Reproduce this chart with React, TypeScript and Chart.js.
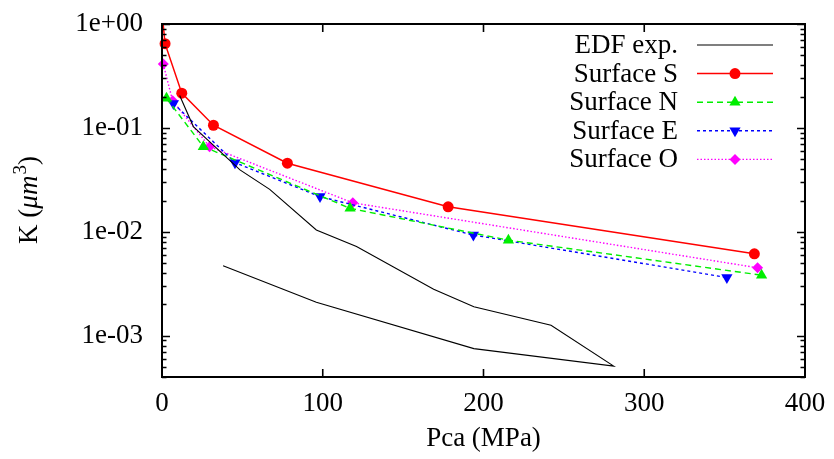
import React, { useEffect, useRef } from 'react';
import { Chart, registerables } from 'chart.js';

Chart.register(...registerables);

// ---- data ----
const edfX = [11, 19.5, 48.5, 67, 96, 121, 169, 194, 242, 281, 194, 96, 38];
const edfY = [0.205, 0.103, 0.0394, 0.0256, 0.0104, 0.0072, 0.0028, 0.0019, 0.00126, 0.00051, 0.00075, 0.0021, 0.0047];

const sX = [0, 1.9, 12.3, 32, 78, 178, 368.5];
const sY = [1.3, 0.646, 0.216, 0.106, 0.0457, 0.0174, 0.00614];

const nX = [2.8, 25.7, 117, 215.5, 373];
const nY = [0.1925, 0.066, 0.0168, 0.0083, 0.00382];

const eX = [7.1, 45.4, 98.3, 193.7, 351.4];
const eY = [0.172, 0.0463, 0.0218, 0.0093, 0.00363];

const oX = [0.8, 6.6, 29.6, 118.7, 370.5];
const oY = [0.411, 0.182, 0.066, 0.019, 0.0045];

const seriesNames = ['EDF exp.', 'Surface S', 'Surface N', 'Surface E', 'Surface O'];

const xTicks = [0, 100, 200, 300, 400];
const yTickValues = [1e-3, 1e-2, 1e-1, 1];
const yTickLabels = ['1e-03', '1e-02', '1e-01', '1e+00'];
const xTitle = 'Pca (MPa)';

const FONT = "'Liberation Serif', 'Times New Roman', Times, serif";
const FS = 27;

function pts(xs: number[], ys: number[]) {
  return xs.map((x, i) => ({ x, y: ys[i] }));
}

function drawMarker(ctx: CanvasRenderingContext2D, style: string, rot: number, x: number, y: number, r: number, color: string) {
  if (!style || r <= 0) return;
  ctx.save();
  ctx.fillStyle = color;
  ctx.beginPath();
  if (style === 'circle') {
    ctx.arc(x, y, r, 0, Math.PI * 2);
  } else if (style === 'triangle') {
    const s = rot ? -1 : 1;
    ctx.moveTo(x, y - s * r);
    ctx.lineTo(x + r * 0.866, y + s * r * 0.5);
    ctx.lineTo(x - r * 0.866, y + s * r * 0.5);
  } else if (style === 'rectRot') {
    ctx.moveTo(x, y - r);
    ctx.lineTo(x + r, y);
    ctx.lineTo(x, y + r);
    ctx.lineTo(x - r, y);
  }
  ctx.closePath();
  ctx.fill();
  ctx.restore();
}

const framePlugin = {
  id: 'gnuFrame',
  afterDraw(chart: any) {
    const { ctx, chartArea: a, scales } = chart;
    const xs = scales.x;
    const ys = scales.y;
    ctx.save();
    // frame
    ctx.strokeStyle = '#000';
    ctx.lineWidth = 2;
    ctx.strokeRect(a.left, a.top, a.right - a.left, a.bottom - a.top);
    // ticks
    ctx.lineWidth = 1.6;
    ctx.beginPath();
    for (const v of xTicks) {
      const px = xs.getPixelForValue(v);
      ctx.moveTo(px, a.bottom);
      ctx.lineTo(px, a.bottom - 8);
      ctx.moveTo(px, a.top);
      ctx.lineTo(px, a.top + 8);
    }
    for (let e = -4; e <= 0; e++) {
      for (let k = 1; k <= 9; k++) {
        const v = k * Math.pow(10, e);
        if (v < ys.min * 0.999 || v > ys.max * 1.001) continue;
        const py = Math.round(ys.getPixelForValue(v)) + 0.5;
        const len = k === 1 ? 8 : 4.5;
        ctx.moveTo(a.left, py);
        ctx.lineTo(a.left + len, py);
        ctx.moveTo(a.right, py);
        ctx.lineTo(a.right - len, py);
      }
    }
    ctx.stroke();

    // legend
    const rowY0 = 45;
    const rowStep = 28.6;
    ctx.font = `${FS}px ${FONT}`;
    ctx.fillStyle = '#000';
    ctx.textAlign = 'right';
    ctx.textBaseline = 'middle';
    chart.data.datasets.forEach((ds: any, i: number) => {
      const y = rowY0 + i * rowStep;
      ctx.fillStyle = '#000';
      ctx.fillText(seriesNames[i], 678, y + 1);
      ctx.save();
      ctx.strokeStyle = ds.borderColor;
      ctx.lineWidth = ds.borderWidth;
      ctx.setLineDash(ds.borderDash || []);
      ctx.beginPath();
      ctx.moveTo(697, y);
      ctx.lineTo(773, y);
      ctx.stroke();
      ctx.restore();
      drawMarker(ctx, ds.legendMarker, ds.rotation || 0, 735, y, ds.legendRadius || 0, ds.backgroundColor);
    });

    // x title
    ctx.textAlign = 'center';
    ctx.textBaseline = 'alphabetic';
    ctx.fillStyle = '#000';
    ctx.fillText(xTitle, (a.left + a.right) / 2, 446);

    // y title: K (μm^3)
    ctx.save();
    ctx.translate(37, (a.top + a.bottom) / 2);
    ctx.rotate(-Math.PI / 2);
    ctx.textAlign = 'left';
    ctx.textBaseline = 'alphabetic';
    const normal = `${FS}px ${FONT}`;
    const italic = `italic ${FS}px ${FONT}`;
    const sup = `${Math.round(FS * 0.72)}px ${FONT}`;
    const parts = [
      { t: 'K (', f: normal, dy: 0 },
      { t: 'μm', f: italic, dy: 0 },
      { t: '3', f: sup, dy: -11 },
      { t: ')', f: normal, dy: 0 },
    ];
    let total = 0;
    const widths = parts.map((p) => {
      ctx.font = p.f;
      const w = ctx.measureText(p.t).width;
      total += w;
      return w;
    });
    let cx = -total / 2;
    parts.forEach((p, i) => {
      ctx.font = p.f;
      ctx.fillText(p.t, cx, p.dy);
      cx += widths[i] + (i === 1 ? 1 : 0);
    });
    ctx.restore();

    ctx.restore();
  },
};

export default function App() {
  const ref = useRef<HTMLCanvasElement>(null);

  useEffect(() => {
    if (!ref.current) return;
    const chart = new Chart(ref.current, {
      type: 'scatter',
      data: {
        datasets: [
          {
            label: seriesNames[0],
            data: pts(edfX, edfY),
            showLine: true,
            borderColor: '#000000',
            backgroundColor: '#000000',
            borderWidth: 1.1,
            pointRadius: 0,
            legendMarker: '',
            legendRadius: 0,
          } as any,
          {
            label: seriesNames[1],
            data: pts(sX, sY),
            showLine: true,
            borderColor: '#ff0000',
            backgroundColor: '#ff0000',
            borderWidth: 1.5,
            pointStyle: 'circle',
            pointRadius: (c: any) => (c.raw && c.raw.y > 1 ? 0 : 5.5),
            pointBorderWidth: 0,
            legendMarker: 'circle',
            legendRadius: 5.5,
          } as any,
          {
            label: seriesNames[2],
            data: pts(nX, nY),
            showLine: true,
            borderColor: '#00ee00',
            backgroundColor: '#00ee00',
            borderWidth: 1.4,
            borderDash: [6, 4],
            pointStyle: 'triangle',
            pointRadius: 6.5,
            pointBorderWidth: 0,
            legendMarker: 'triangle',
            legendRadius: 6.5,
          } as any,
          {
            label: seriesNames[3],
            data: pts(eX, eY),
            showLine: true,
            borderColor: '#0000ff',
            backgroundColor: '#0000ff',
            borderWidth: 1.4,
            borderDash: [3, 3],
            pointStyle: 'triangle',
            rotation: 180,
            pointRadius: 6.5,
            pointBorderWidth: 0,
            legendMarker: 'triangle',
            legendRadius: 6.5,
          } as any,
          {
            label: seriesNames[4],
            data: pts(oX, oY),
            showLine: true,
            borderColor: '#ff00ff',
            backgroundColor: '#ff00ff',
            borderWidth: 1.4,
            borderDash: [1.5, 2],
            pointStyle: 'rectRot',
            pointRadius: 5.5,
            pointBorderWidth: 0,
            legendMarker: 'rectRot',
            legendRadius: 5.5,
          } as any,
        ],
      },
      options: {
        responsive: false,
        animation: false,
        devicePixelRatio: 1,
        layout: { padding: { top: 24, right: 29, left: 0, bottom: 0 } },
        plugins: {
          legend: { display: false },
          tooltip: { enabled: false },
        },
        elements: { line: { tension: 0 } },
        datasets: {
          scatter: { clip: { left: 10, right: 10, top: 0, bottom: 10 } as any },
        },
        scales: {
          x: {
            type: 'linear',
            position: 'bottom',
            min: 0,
            max: 400,
            grid: { display: false, drawTicks: true, tickLength: 11 },
            border: { display: false },
            ticks: {
              stepSize: 100,
              padding: 0,
              color: '#000',
              font: { family: FONT, size: FS },
              maxRotation: 0,
            },
            afterFit: (s: any) => {
              s.height = 82;
            },
          },
          y: {
            type: 'logarithmic',
            position: 'left',
            min: 4e-4,
            max: 1,
            grid: { display: false, drawTicks: true, tickLength: 19 },
            border: { display: false },
            ticks: {
              padding: 0,
              color: '#000',
              font: { family: FONT, size: FS },
              callback: (_v: any, i: number) => yTickLabels[i],
            },
            afterBuildTicks: (s: any) => {
              s.ticks = yTickValues.map((v) => ({ value: v }));
            },
            afterFit: (s: any) => {
              s.width = 162;
            },
          },
        },
      } as any,
      plugins: [framePlugin],
    });
    return () => chart.destroy();
  }, []);

  return (
    <div style={{ position: 'absolute', left: 0, top: 0, width: 834, height: 459, background: '#fff' }}>
      <canvas ref={ref} width={834} height={459} style={{ display: 'block' }} />
    </div>
  );
}
